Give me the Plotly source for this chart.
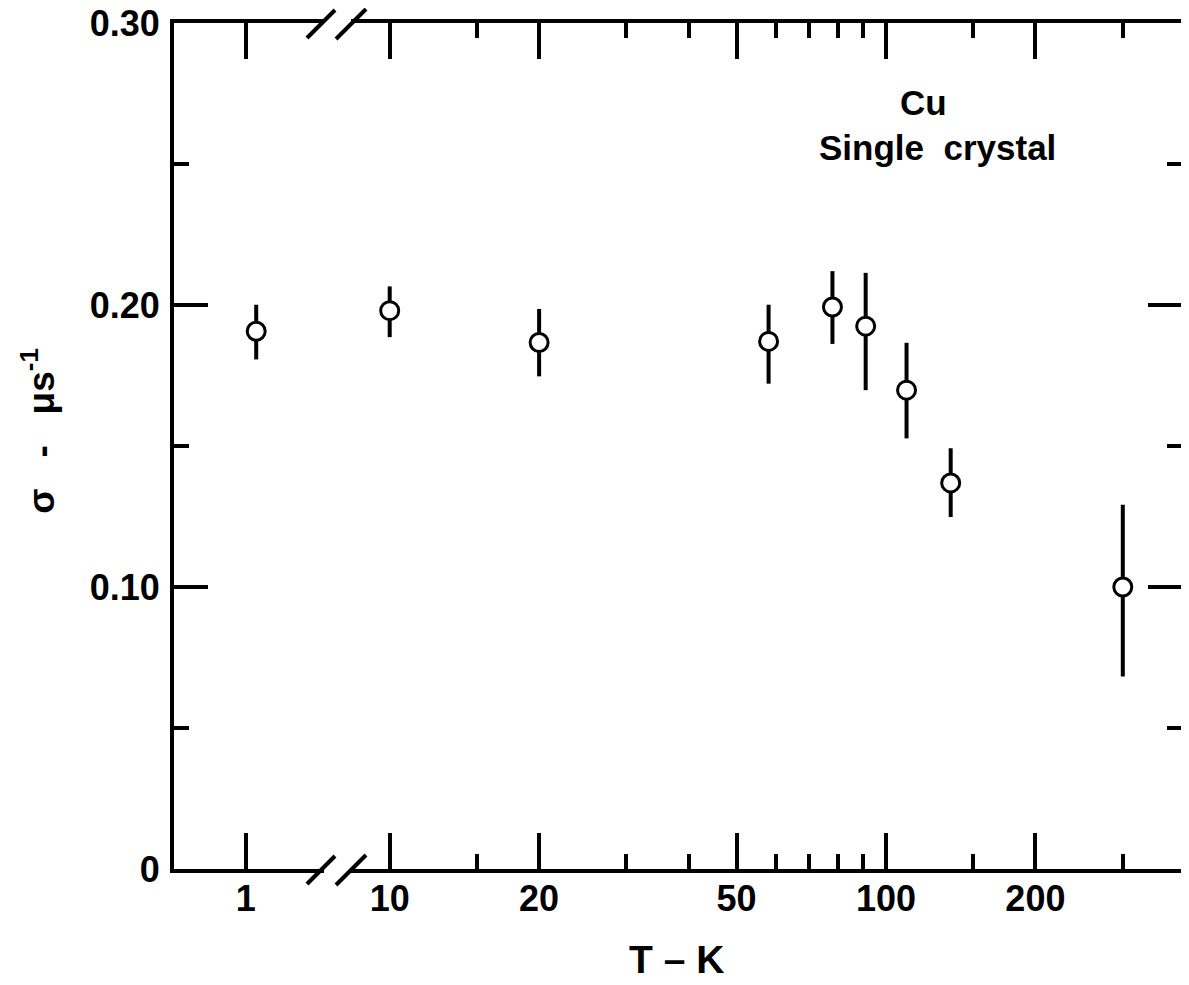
import plotly.graph_objects as go

# ---- data ----
T_low = [1.05]
sigma_low = [0.1907]
err_low_plus = [0.0094]
err_low_minus = [0.0100]

T_high = [10, 20, 58, 78, 91, 110, 135, 300]
sigma_high = [0.1980, 0.1867, 0.1871, 0.1993, 0.1925, 0.1698, 0.1369, 0.1000]
err_high_plus = [0.0086, 0.0119, 0.0130, 0.0127, 0.0189, 0.0168, 0.0123, 0.0292]
err_high_minus = [0.0094, 0.0120, 0.0150, 0.0131, 0.0227, 0.0171, 0.0121, 0.0317]

x_low_ticks = [1]
x_high_ticks = [10, 20, 50, 100, 200]
x_high_minor = [15, 30, 40, 60, 70, 80, 90, 150, 300]
y_ticks = [0, 0.10, 0.20, 0.30]
y_ticktext = ["0", "0.10", "0.20", "0.30"]
y_minor = [0.05, 0.15, 0.25]

# ---- styling ----
FONT = "Liberation Sans"
BLACK = "black"
tickfont = dict(family=FONT, size=36, color=BLACK, weight="bold")
D = 0.1617  # domain split at axis break
X_LOW_RANGE = [-0.1445, 0.184]
X_HIGH_RANGE = [0.8938, 2.5964]
Y_RANGE = [0, 0.30]

marker = dict(symbol="circle", size=18, color="white", line=dict(color=BLACK, width=3))

fig = go.Figure()
# left (low-temperature) segment of the broken axis
fig.add_trace(go.Scatter(
    x=T_low, y=sigma_low, mode="markers", xaxis="x", yaxis="y", marker=marker,
    error_y=dict(type="data", symmetric=False, array=err_low_plus, arrayminus=err_low_minus,
                 width=0, thickness=4, color=BLACK),
))
# right (log) segment
fig.add_trace(go.Scatter(
    x=T_high, y=sigma_high, mode="markers", xaxis="x2", yaxis="y2", marker=marker,
    error_y=dict(type="data", symmetric=False, array=err_high_plus, arrayminus=err_high_minus,
                 width=0, thickness=4, color=BLACK),
))
# empty trace that just activates the top tick axis of the right segment
fig.add_trace(go.Scatter(x=[], y=[], mode="markers", xaxis="x3", yaxis="y2",
                         hoverinfo="skip", showlegend=False))

tick_style = dict(ticks="inside", tickwidth=3.5, tickcolor=BLACK)
minor_x = dict(tickmode="array", tickvals=x_high_minor, ticks="inside",
               ticklen=15, tickwidth=3.5, tickcolor=BLACK, showgrid=False)
minor_y = dict(tickmode="array", tickvals=y_minor, ticks="inside",
               ticklen=15, tickwidth=3.5, tickcolor=BLACK, showgrid=False)
line_style = dict(showline=True, linewidth=4, linecolor=BLACK, showgrid=False, zeroline=False)

fig.update_layout(
    width=1189, height=985,
    margin=dict(l=166, r=15, t=15, b=124),
    plot_bgcolor="rgba(0,0,0,0)", paper_bgcolor="white",
    showlegend=False,
    xaxis=dict(type="log", domain=[0, D], range=X_LOW_RANGE, anchor="y",
               tickmode="array", tickvals=x_low_ticks, ticktext=[str(v) for v in x_low_ticks],
               ticklen=36, mirror="ticks", tickfont=tickfont, ticklabelstandoff=-5,
               ticklabeloverflow="allow", automargin=False, **tick_style, **line_style),
    xaxis2=dict(type="log", domain=[D, 1], range=X_HIGH_RANGE, anchor="y2",
                tickmode="array", tickvals=x_high_ticks, ticktext=[str(v) for v in x_high_ticks],
                ticklen=36, mirror="ticks", minor=minor_x, tickfont=tickfont, ticklabelstandoff=-5,
                ticklabeloverflow="allow", automargin=False, **tick_style, **line_style),
    xaxis3=dict(type="log", overlaying="x2", side="top", anchor="y2", range=X_HIGH_RANGE,
                tickmode="array", tickvals=x_high_ticks, showticklabels=False,
                ticklen=36, minor=minor_x, **tick_style, **line_style),
    yaxis=dict(domain=[0, 1], range=Y_RANGE, anchor="x",
               tickmode="array", tickvals=y_ticks, ticktext=y_ticktext,
               ticklen=34, minor=minor_y, tickfont=tickfont, ticklabelstandoff=3,
               ticklabeloverflow="allow", automargin=False, **tick_style, **line_style),
    yaxis2=dict(domain=[0, 1], anchor="x2", side="right", range=Y_RANGE, matches="y",
                tickmode="array", tickvals=y_ticks, showticklabels=False,
                ticklen=34, minor=minor_y, **tick_style, **line_style),
)

# axis break marks "//" at bottom and top
shapes = []
for ya in (0, 1):
    shapes.append(dict(type="line", xref="paper", yref="paper", xsizemode="pixel", ysizemode="pixel",
                       xanchor=D, yanchor=ya, x0=-13, x1=14, y0=0, y1=0,
                       line=dict(color="white", width=9), layer="above"))
    shapes.append(dict(type="line", xref="paper", yref="paper", xsizemode="pixel", ysizemode="pixel",
                       xanchor=D, yanchor=ya, x0=-30, x1=-2, y0=-15, y1=13,
                       line=dict(color=BLACK, width=4), layer="above"))
    shapes.append(dict(type="line", xref="paper", yref="paper", xsizemode="pixel", ysizemode="pixel",
                       xanchor=D, yanchor=ya, x0=-1, x1=29, y0=-16, y1=14,
                       line=dict(color=BLACK, width=4), layer="above"))
fig.update_layout(shapes=shapes)

annotations = [
    dict(text="Cu", xref="paper", yref="paper", x=0.744, y=0.906, showarrow=False,
         xanchor="center", yanchor="middle", font=dict(family=FONT, size=35, color=BLACK, weight="bold")),
    dict(text="Single\u00a0\u00a0crystal", xref="paper", yref="paper", x=0.757, y=0.853, showarrow=False,
         xanchor="center", yanchor="middle", font=dict(family=FONT, size=35, color=BLACK, weight="bold")),
    dict(text="T \u2013 K", xref="paper", yref="paper", x=0.499, y=-0.107, showarrow=False,
         xanchor="center", yanchor="middle", font=dict(family=FONT, size=39, color=BLACK, weight="bold")),
    dict(text="\u03c3\u00a0\u00a0\u00a0-\u00a0\u00a0\u00a0\u03bcs<sup>-1</sup>", xref="paper", yref="paper",
         x=-0.134, y=0.518, showarrow=False, textangle=-90,
         xanchor="center", yanchor="middle", font=dict(family=FONT, size=37, color=BLACK, weight="bold")),
]
fig.update_layout(annotations=annotations)

fig.write_html("out.html")
